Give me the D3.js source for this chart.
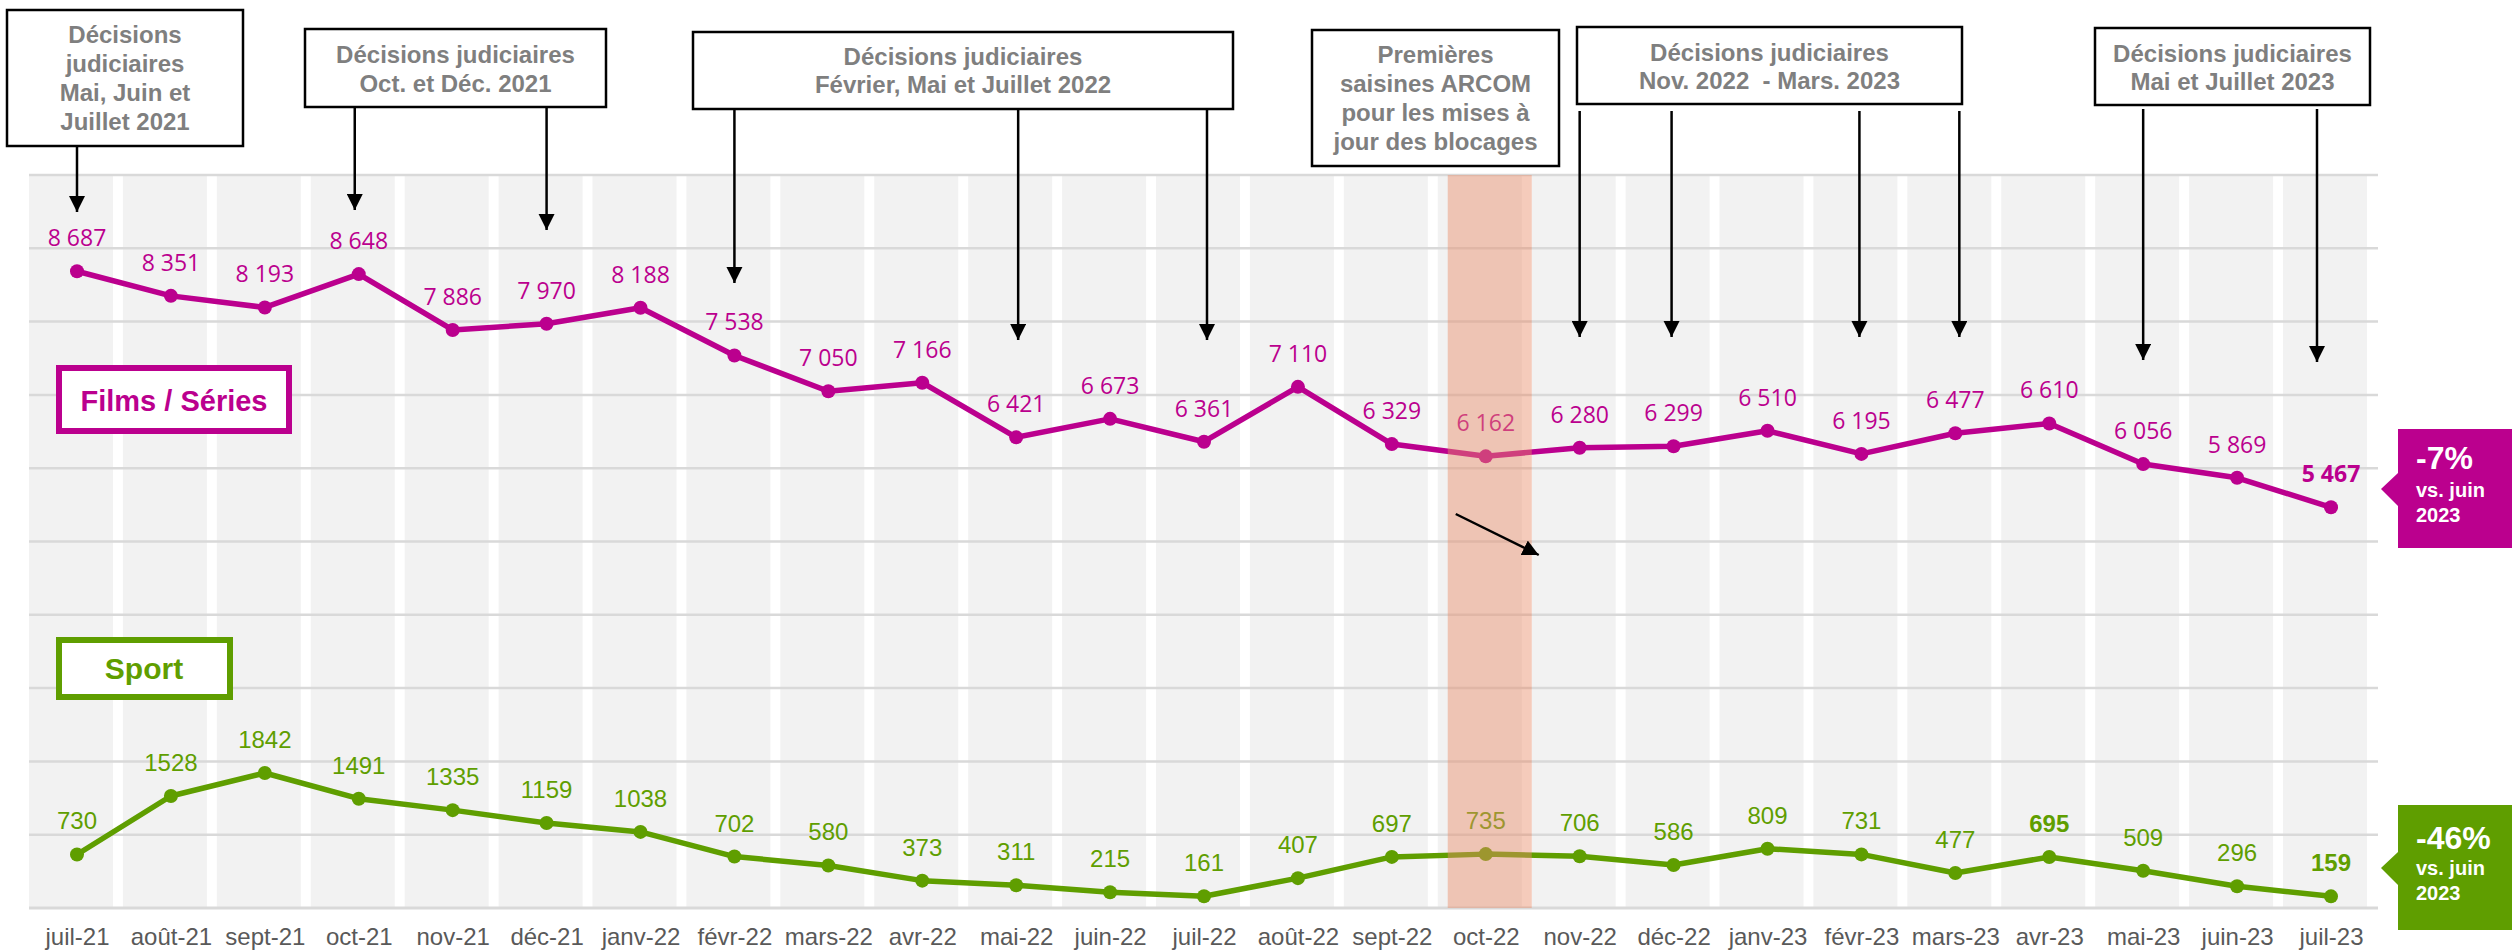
<!DOCTYPE html>
<html>
<head>
<meta charset="utf-8">
<script src="https://cdn.jsdelivr.net/npm/d3@7"></script>
<style>
    body { margin: 0; background: #fff; }
    svg { display: block; }
</style>
</head>
<body>
<svg id="chart" width="2512" height="950"></svg>
<script>
// ---- data ----
const months = ["juil-21", "août-21", "sept-21", "oct-21", "nov-21", "déc-21", "janv-22", "févr-22",
    "mars-22", "avr-22", "mai-22", "juin-22", "juil-22", "août-22", "sept-22", "oct-22", "nov-22",
    "déc-22", "janv-23", "févr-23", "mars-23", "avr-23", "mai-23", "juin-23", "juil-23"];

const filmsValues = [8687, 8351, 8193, 8648, 7886, 7970, 8188, 7538, 7050, 7166, 6421, 6673, 6361,
    7110, 6329, 6162, 6280, 6299, 6510, 6195, 6477, 6610, 6056, 5869, 5467];

const sportValues = [730, 1528, 1842, 1491, 1335, 1159, 1038, 702, 580, 373, 311, 215, 161,
    407, 697, 735, 706, 586, 809, 731, 477, 695, 509, 296, 159];

const gridTicks = d3.range(0, 10001, 1000);

const noteLines = [
    ["Décisions", "judiciaires", "Mai, Juin et", "Juillet 2021"],
    ["Décisions judiciaires", "Oct. et Déc. 2021"],
    ["Décisions judiciaires", "Février, Mai et Juillet 2022"],
    ["Premières", "saisines ARCOM", "pour les mises à", "jour des blocages"],
    ["Décisions judiciaires", "Nov. 2022  - Mars. 2023"],
    ["Décisions judiciaires", "Mai et Juillet 2023"]
];
const noteTargets = [
    ["juil-21"],
    ["oct-21", "déc-21"],
    ["févr-22", "mai-22", "juil-22"],
    [],
    ["nov-22", "déc-22", "févr-23", "mars-23"],
    ["mai-23", "juil-23"]
];

const highlightMonth = "oct-22";
const filmsBold = ["juil-23"];
const sportBold = ["avr-23", "juil-23"];

const calloutLines = [
    ["-7%", "vs. juin", "2023"],
    ["-46%", "vs. juin", "2023"]
];

// ---- layout ----
const magenta = "#bb008e";
const green = "#5f9e00";

// box: [x0, y0, x1, y1], first text baseline, line step, arrow start, arrow tips, arrow x nudges
const noteLayout = [
    { box: [7, 10, 243, 146], base: 43, step: 29, tips: [212], dx: [0] },
    { box: [305, 29, 606, 107], base: 63, step: 29, tips: [210, 230], dx: [-4, 0] },
    { box: [693, 32, 1233, 109], base: 65, step: 28, tips: [283, 340, 340], dx: [0, 2, 3] },
    { box: [1312, 30, 1559, 166], base: 63, step: 29, tips: [], dx: [] },
    { box: [1577, 27, 1962, 104], base: 61, step: 28, start: 111, tips: [337, 337, 337, 337], dx: [0, -2, -2, 4] },
    { box: [2095, 28, 2370, 105], base: 62, step: 28, start: 109, tips: [360, 362], dx: [0, -14] }
];

const svg = d3.select("#chart");

const x = d3.scalePoint().domain(months).range([77, 2331]);
const y = d3.scaleLinear().domain([0, 10000]).range([908, 175]);

const spaceFormat = d3.formatLocale({ decimal: ",", thousands: " ", grouping: [3], currency: ["", " €"] }).format(",d");

const plotLeft = 29;
const plotRight = 2378;

svg.append("defs").append("marker")
    .attr("id", "arrowhead")
    .attr("viewBox", "0 0 10 10")
    .attr("refX", 10)
    .attr("refY", 5)
    .attr("markerWidth", 6.5)
    .attr("markerHeight", 6.5)
    .attr("markerUnits", "strokeWidth")
    .attr("orient", "auto")
    .append("path")
    .attr("d", "M0,0 L10,5 L0,10 Z")
    .attr("fill", "#000");

// background columns
svg.append("g")
    .selectAll("rect")
    .data(months)
    .join("rect")
    .attr("x", d => x(d) - 48)
    .attr("width", 84)
    .attr("y", y(10000))
    .attr("height", y(0) - y(10000))
    .attr("fill", "#f2f2f2");

// gridlines
svg.append("g")
    .selectAll("line")
    .data(gridTicks)
    .join("line")
    .attr("x1", plotLeft)
    .attr("x2", plotRight)
    .attr("y1", d => y(d))
    .attr("y2", d => y(d))
    .attr("stroke", "#d9d9d9")
    .attr("stroke-width", d => d === 0 ? 3 : 2.5);

// x axis labels
const xAxis = svg.append("g")
    .attr("transform", "translate(0," + y(0) + ")")
    .call(d3.axisBottom(x).tickSize(0).tickPadding(20));
xAxis.select(".domain").remove();
xAxis.selectAll("text")
    .attr("font-family", "'Liberation Sans', Arial, sans-serif")
    .attr("font-size", 24)
    .attr("fill", "#595959");

// series
function drawSeries(values, color, labelFont, labelSize, format, boldMonths) {
    const g = svg.append("g");

    g.append("path")
        .datum(values)
        .attr("fill", "none")
        .attr("stroke", color)
        .attr("stroke-width", 5.5)
        .attr("stroke-linejoin", "round")
        .attr("d", d3.line().x((d, i) => x(months[i])).y(d => y(d)));

    g.selectAll("circle")
        .data(values)
        .join("circle")
        .attr("cx", (d, i) => x(months[i]))
        .attr("cy", d => y(d))
        .attr("r", 7)
        .attr("fill", color);

    g.selectAll("text")
        .data(values)
        .join("text")
        .attr("x", (d, i) => x(months[i]))
        .attr("y", d => y(d) - 25)
        .attr("text-anchor", "middle")
        .attr("font-family", labelFont)
        .attr("font-size", labelSize)
        .attr("font-weight", (d, i) => boldMonths.includes(months[i]) ? "bold" : "normal")
        .attr("fill", color)
        .text(d => format(d));
}

drawSeries(filmsValues, magenta, "'Open Sans', 'Noto Sans', sans-serif", 23, spaceFormat, filmsBold);
drawSeries(sportValues, green, "'Liberation Sans', Arial, sans-serif", 24, d3.format("d"), sportBold);

// highlighted month band (drawn on top)
svg.append("rect")
    .attr("x", x(highlightMonth) - 38)
    .attr("width", 84)
    .attr("y", y(10000))
    .attr("height", y(0) - y(10000))
    .attr("fill", "rgb(232,140,105)")
    .attr("opacity", 0.45);

svg.append("line")
    .attr("x1", x(highlightMonth) - 30)
    .attr("y1", 514)
    .attr("x2", x(highlightMonth) + 53)
    .attr("y2", 555)
    .attr("stroke", "#000")
    .attr("stroke-width", 2.5)
    .attr("marker-end", "url(#arrowhead)");

// legend boxes
function drawLegend(label, color, bx, by, bw, bh, tx, ty, size) {
    svg.append("rect")
        .attr("x", bx).attr("y", by)
        .attr("width", bw).attr("height", bh)
        .attr("fill", "#fff")
        .attr("stroke", color)
        .attr("stroke-width", 6);
    svg.append("text")
        .attr("x", tx).attr("y", ty)
        .attr("text-anchor", "middle")
        .attr("font-family", "'Liberation Sans', Arial, sans-serif")
        .attr("font-weight", "bold")
        .attr("font-size", size)
        .attr("fill", color)
        .text(label);
}

drawLegend("Films / Séries", magenta, 59, 368, 230, 63, 174, 411, 29);
drawLegend("Sport", green, 59, 640, 171, 57, 144, 679, 30);

// annotation boxes with arrows
noteLines.forEach(function(lines, i) {
    const lay = noteLayout[i];
    const [x0, y0, x1, y1] = lay.box;
    const g = svg.append("g");

    g.append("rect")
        .attr("x", x0).attr("y", y0)
        .attr("width", x1 - x0).attr("height", y1 - y0)
        .attr("fill", "#fff")
        .attr("stroke", "#000")
        .attr("stroke-width", 2.5);

    g.selectAll("text")
        .data(lines)
        .join("text")
        .attr("x", (x0 + x1) / 2)
        .attr("y", (d, j) => lay.base + j * lay.step)
        .attr("text-anchor", "middle")
        .attr("font-family", "'Liberation Sans', Arial, sans-serif")
        .attr("font-weight", "bold")
        .attr("font-size", 24)
        .attr("fill", "#7f7f7f")
        .style("white-space", "pre")
        .text(d => d);

    noteTargets[i].forEach(function(m, k) {
        const ax = x(m) + lay.dx[k];
        g.append("line")
            .attr("x1", ax).attr("x2", ax)
            .attr("y1", lay.start || y1)
            .attr("y2", lay.tips[k])
            .attr("stroke", "#000")
            .attr("stroke-width", 2.5)
            .attr("marker-end", "url(#arrowhead)");
    });
});

// callouts on the right
function drawCallout(lines, color, top, bottom, tipY, baseLines) {
    const left = 2398;
    const g = svg.append("g");
    g.append("path")
        .attr("d", "M" + left + "," + top + " L2512," + top + " L2512," + bottom + " L" + left + "," + bottom +
            " L" + left + "," + (tipY + 17) + " L2381," + tipY + " L" + left + "," + (tipY - 16) + " Z")
        .attr("fill", color);
    g.selectAll("text")
        .data(lines)
        .join("text")
        .attr("x", 2416)
        .attr("y", (d, j) => baseLines[j])
        .attr("font-family", "'Liberation Sans', Arial, sans-serif")
        .attr("font-weight", "bold")
        .attr("font-size", (d, j) => j === 0 ? 32 : 20)
        .attr("fill", "#fff")
        .text(d => d);
}

drawCallout(calloutLines[0], magenta, 429, 548, 489, [469, 497, 522]);
drawCallout(calloutLines[1], green, 805, 930, 868, [849, 875, 900]);
</script>
</body>
</html>
